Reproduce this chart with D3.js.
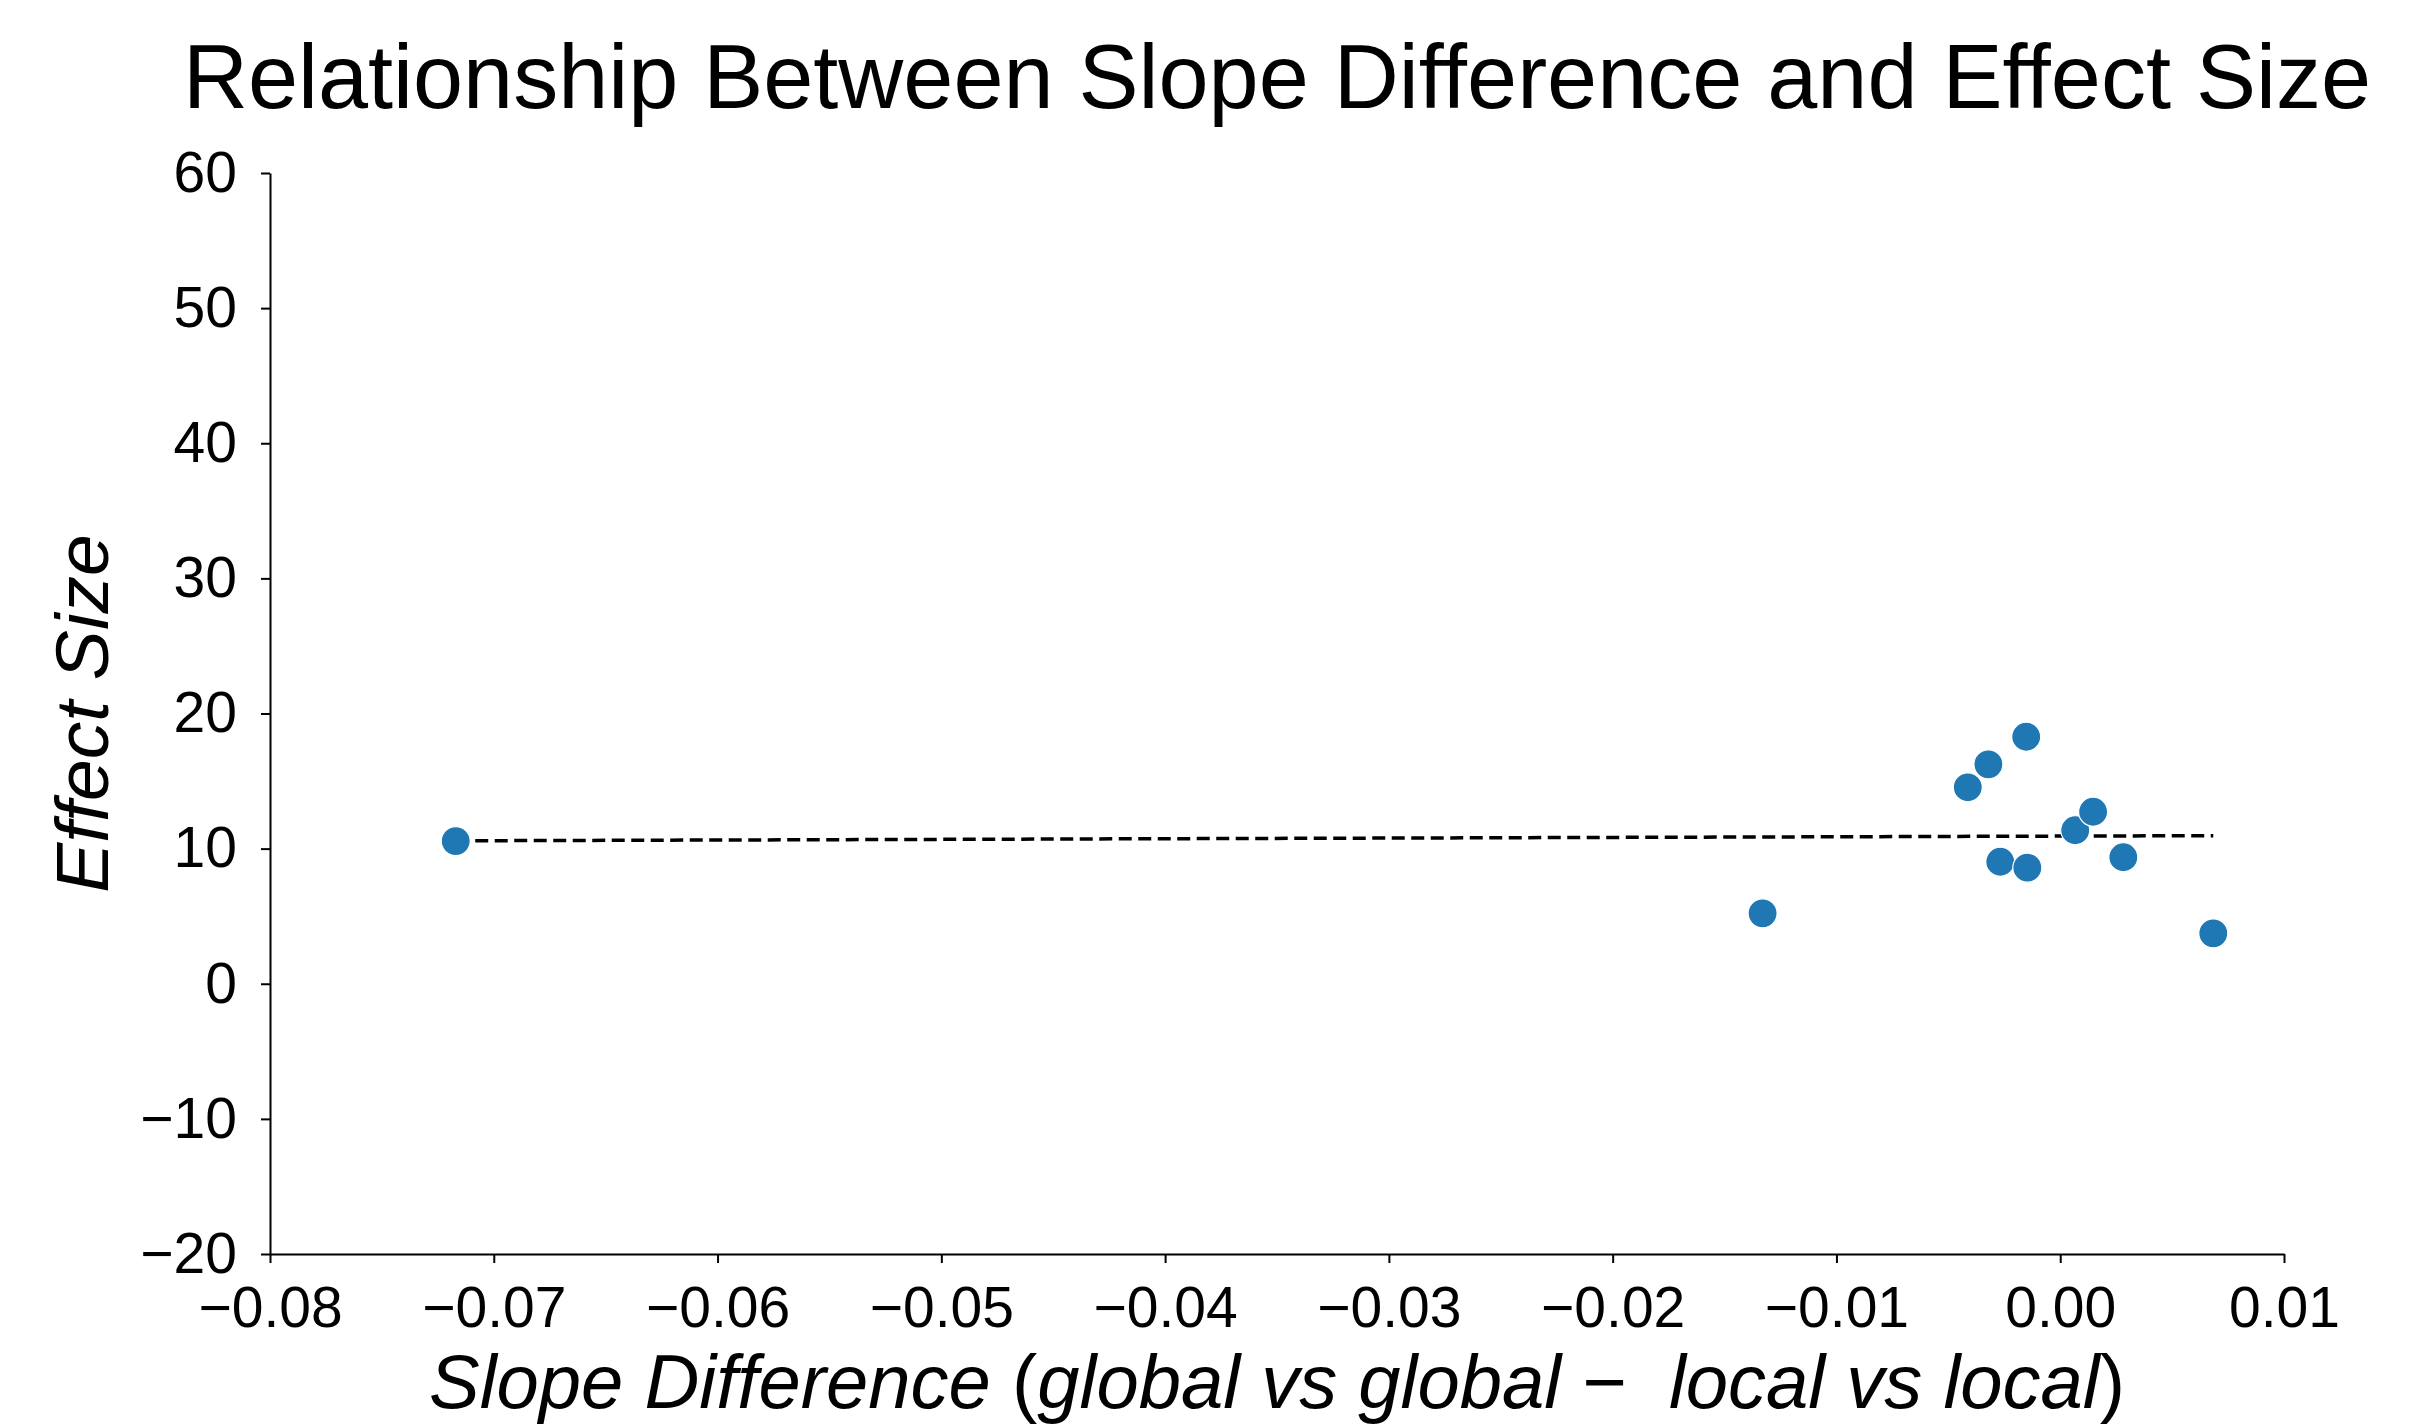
<!DOCTYPE html>
<html>
<head>
<meta charset="utf-8">
<script src="https://cdn.jsdelivr.net/npm/d3@7"></script>
<style>
  html, body { margin: 0; padding: 0; background: #fff; }
  svg { display: block; font-family: "Liberation Sans", Arial, sans-serif; }
</style>
</head>
<body>
<svg id="chart" width="2434" height="1425"></svg>
<script>
// Slope difference (x) against effect size (y), one point per model
const slopeDiff = [-0.0717, -0.0133, -0.00413, -0.00321, -0.00268, -0.00152, -0.00147, 0.00067, 0.00147, 0.00282, 0.00684];
const effectSize = [10.56, 5.21, 14.54, 16.24, 9.03, 18.28, 8.59, 11.36, 12.73, 9.36, 3.73];

// Least-squares trend line endpoints
const trendX = [-0.0717, 0.00684];
const trendY = [10.58, 10.96];

const xTicks = [-0.08, -0.07, -0.06, -0.05, -0.04, -0.03, -0.02, -0.01, 0.00, 0.01];
const yTicks = [-20, -10, 0, 10, 20, 30, 40, 50, 60];

const margin = { left: 270, right: 2434 - 2284, top: 173, bottom: 1425 - 1254 };
const width = 2434, height = 1425;

const svg = d3.select("#chart");

const x = d3.scaleLinear().domain([-0.08, 0.01]).range([margin.left, width - margin.right]);
const y = d3.scaleLinear().domain([-20, 60]).range([height - margin.bottom, margin.top]);

const fmtX = v => (v < 0 ? "\u2212" : "") + Math.abs(v).toFixed(2);
const fmtY = v => (v < 0 ? "\u2212" : "") + Math.abs(v);

// Axes
const xAxis = svg.append("g")
  .attr("transform", `translate(0,${y(-20)})`)
  .call(d3.axisBottom(x).tickValues(xTicks).tickFormat(fmtX).tickSize(9).tickPadding(24).tickSizeOuter(0));
const yAxis = svg.append("g")
  .attr("transform", `translate(${x(-0.08)},0)`)
  .call(d3.axisLeft(y).tickValues(yTicks).tickFormat(fmtY).tickSize(9).tickPadding(24).tickSizeOuter(0));

[xAxis, yAxis].forEach(g => {
  g.select(".domain").attr("stroke", "#000").attr("stroke-width", 2);
  g.selectAll(".tick line").attr("stroke", "#000").attr("stroke-width", 2);
  g.selectAll(".tick text")
    .attr("fill", "#000")
    .style("font-family", "'Liberation Sans', Arial, sans-serif")
    .style("font-size", "57px");
});

// Trend line
const trend = trendX.map((v, i) => [v, trendY[i]]);
svg.append("path")
  .datum(trend)
  .attr("fill", "none")
  .attr("stroke", "#000")
  .attr("stroke-width", 3.5)
  .attr("stroke-dasharray", "13,6.5")
  .attr("d", d3.line().x(d => x(d[0])).y(d => y(d[1])));

// Points
const pts = slopeDiff.map((v, i) => ({ x: v, y: effectSize[i] }));
svg.append("g").selectAll("circle")
  .data(pts)
  .join("circle")
  .attr("cx", d => x(d.x))
  .attr("cy", d => y(d.y))
  .attr("r", 14.5)
  .attr("fill", "#1f77b4")
  .attr("stroke", "#fff")
  .attr("stroke-width", 1.2);

// Title
svg.append("text")
  .attr("x", (x(-0.08) + x(0.01)) / 2)
  .attr("y", 108)
  .attr("text-anchor", "middle")
  .style("font-size", "90px")
  .attr("fill", "#000")
  .text("Relationship Between Slope Difference and Effect Size");

// X axis label
const xl = svg.append("text")
  .attr("x", (x(-0.08) + x(0.01)) / 2)
  .attr("y", 1408)
  .attr("text-anchor", "middle")
  .style("font-size", "76px")
  .style("white-space", "pre")
  .attr("fill", "#000");
xl.append("tspan").style("font-style", "italic").text("Slope Difference ");
xl.append("tspan").text("(");
xl.append("tspan").style("font-style", "italic").text("global vs global");
xl.append("tspan").text(" \u2212  ");
xl.append("tspan").style("font-style", "italic").text("local vs local");
xl.append("tspan").text(")");

// Y axis label
svg.append("text")
  .attr("transform", `translate(108,${(y(-20) + y(60)) / 2}) rotate(-90)`)
  .attr("text-anchor", "middle")
  .style("font-size", "75px")
  .style("font-style", "italic")
  .attr("fill", "#000")
  .text("Effect Size");
</script>
</body>
</html>
